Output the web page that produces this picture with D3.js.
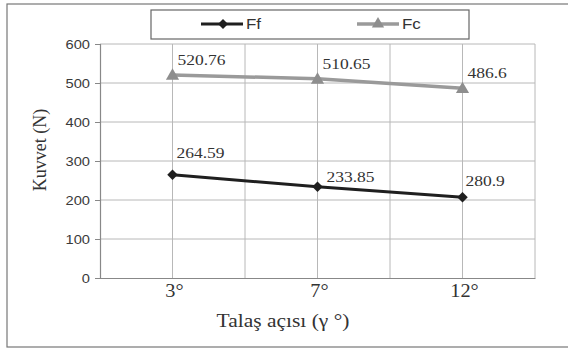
<!DOCTYPE html>
<html><head><meta charset="utf-8">
<script src="https://cdn.jsdelivr.net/npm/d3@7"></script>
<style>html,body{margin:0;padding:0;background:#fff;}svg{display:block;}
.serif{font-family:"Liberation Serif","Times New Roman",serif;}
.sans{font-family:"Liberation Sans",Arial,sans-serif;}
</style>
</head><body>
<svg id="chart" width="568" height="350"></svg>
<script>
// ---- data ----
const categories = ["3°", "7°", "12°"];
const ffValues = [264.59, 233.85, 207];
const fcValues = [520.76, 510.65, 486.6];
const ffLabels = ["264.59", "233.85", "280.9"];
const fcLabels = ["520.76", "510.65", "486.6"];
const yTicks = [0, 100, 200, 300, 400, 500, 600];
const seriesNames = ["Ff", "Fc"];

// ---- layout ----
const svg = d3.select("#chart");
const SX = 1.13; // horizontal stretch of scanned text
const plot = {left: 100, right: 535, top: 44, bottom: 278};
const x = d3.scaleBand().domain(categories).range([plot.left, plot.right]).padding(0);
const y = d3.scaleLinear().domain([0, 600]).range([plot.bottom, plot.top]);
const cx = c => x(c) + x.bandwidth() / 2;

function stext(g, px, py, str, opts) {
  return g.append("text")
    .attr("class", opts.cls)
    .attr("transform", `translate(${px},${py}) scale(${SX},1)`)
    .attr("text-anchor", opts.anchor || "start")
    .attr("font-size", opts.size)
    .attr("fill", opts.fill || "#333")
    .text(str);
}

// outer frame
svg.append("rect").attr("x", 7).attr("y", 4).attr("width", 600).attr("height", 343)
  .attr("fill", "#fff").attr("stroke", "#777").attr("stroke-width", 1.2);

// horizontal grid
svg.append("g").selectAll("line").data(yTicks.slice(1)).join("line")
  .attr("x1", plot.left).attr("x2", plot.right)
  .attr("y1", d => y(d)).attr("y2", d => y(d))
  .attr("stroke", "#b8b8b8").attr("stroke-width", 1);

// vertical grid: band centres and band edges
const vx = [];
categories.forEach(c => { vx.push(x(c) + x.bandwidth() / 2); vx.push(x(c) + x.bandwidth()); });
svg.append("g").selectAll("line").data(vx).join("line")
  .attr("x1", d => d).attr("x2", d => d)
  .attr("y1", plot.top).attr("y2", plot.bottom)
  .attr("stroke", "#b8b8b8").attr("stroke-width", 1);

// y axis
const yAxis = d3.axisLeft(y).tickValues(yTicks).tickSize(5).tickPadding(4);
const ya = svg.append("g").attr("transform", `translate(${plot.left},0)`).call(yAxis);
ya.select(".domain").attr("stroke", "#888").attr("stroke-width", 1.2);
ya.selectAll(".tick line").attr("stroke", "#888");
ya.selectAll(".tick text").remove();
yTicks.forEach(v => stext(svg, 90, y(v) + 5, String(v),
  {anchor: "end", cls: "sans", size: 13, fill: "#3a3a3a"}));

// x axis
const xAxis = d3.axisBottom(x).tickSize(0).tickFormat("");
const xa = svg.append("g").attr("transform", `translate(0,${plot.bottom})`).call(xAxis);
xa.select(".domain").attr("stroke", "#888").attr("stroke-width", 1.2);
categories.forEach(c => stext(svg, cx(c) + 2, 297, c,
  {anchor: "middle", cls: "serif", size: 18, fill: "#333"}));

// axis titles
stext(svg, 283, 327, "Talaş açısı (γ °)",
  {anchor: "middle", cls: "serif", size: 19, fill: "#333"});
svg.append("text")
  .attr("class", "serif")
  .attr("transform", "translate(46,150) rotate(-90) scale(1,1.1)")
  .attr("text-anchor", "middle")
  .attr("font-size", 18).attr("fill", "#333")
  .text("Kuvvet (N)");

// series
const line = d3.line().x((d, i) => cx(categories[i])).y(d => y(d));

// Fc
svg.append("path").datum(fcValues).attr("d", line)
  .attr("fill", "none").attr("stroke", "#9a9a9a").attr("stroke-width", 3.5);
svg.append("g").selectAll("path").data(fcValues).join("path")
  .attr("transform", (d, i) => `translate(${cx(categories[i])},${y(d) + 1})`)
  .attr("d", d3.symbol().type(d3.symbolTriangle).size(75)()).attr("fill", "#8e8e8e");
// Ff
svg.append("path").datum(ffValues).attr("d", line)
  .attr("fill", "none").attr("stroke", "#1f1f1f").attr("stroke-width", 3);
svg.append("g").selectAll("path").data(ffValues).join("path")
  .attr("transform", (d, i) => `translate(${cx(categories[i])},${y(d)}) rotate(45)`)
  .attr("d", d3.symbol().type(d3.symbolSquare).size(55)()).attr("fill", "#1f1f1f");

// data labels
const nudgeFc = [[5, -10], [5, -10], [5, -10]];
const nudgeFf = [[4, -17], [9, -5], [3, -11]];
fcValues.forEach((v, i) => stext(svg, cx(categories[i]) + nudgeFc[i][0], y(v) + nudgeFc[i][1], fcLabels[i],
  {cls: "serif", size: 15.5, fill: "#333"}));
ffValues.forEach((v, i) => stext(svg, cx(categories[i]) + nudgeFf[i][0], y(v) + nudgeFf[i][1], ffLabels[i],
  {cls: "serif", size: 15.5, fill: "#333"}));

// legend
svg.append("rect").attr("x", 151).attr("y", 10).attr("width", 318).attr("height", 29)
  .attr("fill", "#fff").attr("stroke", "#666").attr("stroke-width", 1.2);
const leg = [
  {name: seriesNames[0], x1: 201, color: "#1f1f1f", w: 3, sym: "d"},
  {name: seriesNames[1], x1: 357, color: "#9a9a9a", w: 3.5, sym: "t"}
];
leg.forEach(l => {
  svg.append("line").attr("x1", l.x1).attr("x2", l.x1 + 42).attr("y1", 24).attr("y2", 24)
    .attr("stroke", l.color).attr("stroke-width", l.w);
  if (l.sym === "d") {
    svg.append("path").attr("transform", `translate(${l.x1 + 22},24) rotate(45)`)
      .attr("d", d3.symbol().type(d3.symbolSquare).size(50)()).attr("fill", l.color);
  } else {
    svg.append("path").attr("transform", `translate(${l.x1 + 21},24)`)
      .attr("d", d3.symbol().type(d3.symbolTriangle).size(65)()).attr("fill", "#8e8e8e");
  }
  stext(svg, l.x1 + 45, 29, l.name, {cls: "sans", size: 15, fill: "#333"});
});
</script>
</body></html>
